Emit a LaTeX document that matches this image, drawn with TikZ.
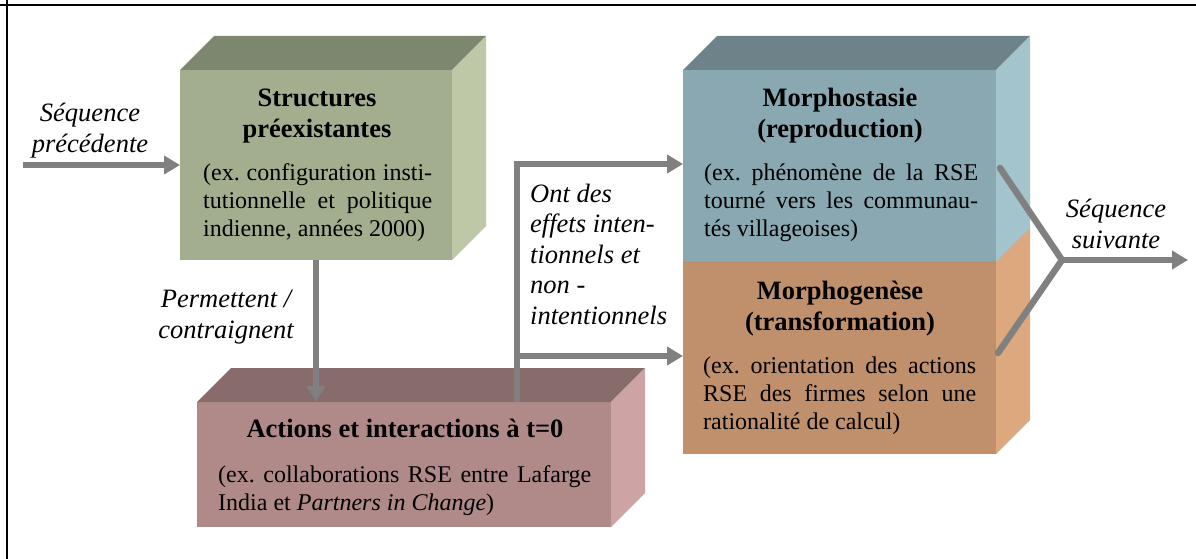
\documentclass[tikz,border=0pt]{standalone}
\usepackage{fontspec}
\setmainfont{Liberation Serif}
\frenchspacing
\usetikzlibrary{arrows.meta,calc}
\definecolor{gfront}{HTML}{A3AE8E}
\definecolor{gtop}{HTML}{7D866F}
\definecolor{gside}{HTML}{BEC8A6}
\definecolor{bfront}{HTML}{89A8B1}
\definecolor{btop}{HTML}{6D8389}
\definecolor{bside}{HTML}{A3C4CD}
\definecolor{ofront}{HTML}{C08F6B}
\definecolor{otop}{HTML}{99725A}
\definecolor{oside}{HTML}{DDA87E}
\definecolor{pfront}{HTML}{B08A89}
\definecolor{ptop}{HTML}{886B6B}
\definecolor{pside}{HTML}{CDA3A3}
\definecolor{arrowgray}{HTML}{808080}
\tikzset{
  face/.style={draw=none, inner sep=0pt, outer sep=0pt, anchor=north west},
  conn/.style={draw=arrowgray, line width=6.5pt, -{Triangle[length=16pt,width=18pt]}},
  plainconn/.style={draw=arrowgray, line width=6.5pt, line cap=round, line join=round},
  boxtitle/.style={font=\fontsize{26.5}{31}\selectfont\bfseries, align=center, anchor=base, inner sep=0pt},
  boxbody/.style={font=\fontsize{24}{28}\selectfont, align=justify, anchor=base west, inner sep=0pt},
  lab/.style={font=\fontsize{26.5}{30.5}\selectfont\itshape, inner sep=0pt, anchor=base, align=center},
}
\newcommand{\mycube}[8]{%
  \node[face, fill=#6, minimum width=#4pt, minimum height=#5pt] (#1) at (#2,#3) {};
  \fill[#7] (#1.north west) -- ++(34,-34) -- ([shift={(34,-34)}]#1.north east) -- (#1.north east) -- cycle;
  \fill[#8] (#1.north east) -- ++(34,-34) -- ([shift={(34,-34)}]#1.south east) -- (#1.south east) -- cycle;
}
\begin{document}
\begin{tikzpicture}[x=1pt,y=-1pt]
\useasboundingbox (0,0) rectangle (1196,559);
\fill[white] (0,0) rectangle (1196,559);
% frame
\draw[line width=2pt] (0,5) -- (1196,5);
\draw[line width=2pt] (7,0) -- (7,559);
% boxes
\mycube{gf}{180}{70}{272}{190}{gfront}{gtop}{gside}
\mycube{of}{683}{262}{313}{192}{ofront}{otop}{oside}
\mycube{bf}{683}{70}{313}{192}{bfront}{btop}{bside}
\mycube{pf}{197}{402}{414}{125}{pfront}{ptop}{pside}
% box texts (title anchors: baseline of the last line)
\node[boxtitle] (gt) at (317,137) {Structures\\préexistantes};
\node[boxbody, text width=229pt] (gb) at (203,180) {(ex. configuration insti-\linebreak tutionnelle et politique\linebreak indienne, années 2000)};
\node[boxtitle] (bt) at (840,137) {Morphostasie\\(reproduction)};
\node[boxbody, text width=274pt] (bb) at (704,180) {(ex. phénomène de la RSE\linebreak tourné vers les communau-\linebreak tés villageoises)};
\node[boxtitle] (ot) at (840,330) {Morphogenèse\\(transformation)};
\node[boxbody, text width=273pt] (ob) at (703,373) {(ex. orientation des actions\linebreak RSE des firmes selon une\linebreak rationalité de calcul)};
\node[boxtitle] (pt) at (405,437) {Actions et interactions à t=0};
\node[boxbody, text width=373pt] (pb) at (218,482) {(ex. collaborations RSE entre Lafarge\linebreak India et \textit{Partners in Change})};
% labels
\node[lab] (l1) at (90,152) {Séquence\\précédente};
\node[lab] (l2) at (226,338) {Permettent /\\contraignent};
\node[lab, anchor=base west, align=left] (l3) at (530,324) {Ont des\\effets inten-\\tionnels et\\non -\\intentionnels};
\node[lab] (l4) at (1116,248) {Séquence\\suivante};
% connectors
\coordinate (start) at (23,165);
\draw[conn] (start) -- (gf.west);
\draw[conn] (gf.south) -- (gf.south |- pf.north);
\coordinate (up) at (517,164);
\coordinate (fork) at (517,356);
\draw[conn] (up |- pf.north) -- (up) -- (up -| bf.west);
\draw[conn] (fork) -- (fork -| of.west);
\coordinate (m1) at (1000,168);
\coordinate (m2) at (998,353);
\coordinate (j) at (1062,260);
\coordinate (exit) at (1188,260);
\draw[plainconn] (m1) -- (j) -- (m2);
\draw[conn] (j) -- (exit);
\end{tikzpicture}
\end{document}
